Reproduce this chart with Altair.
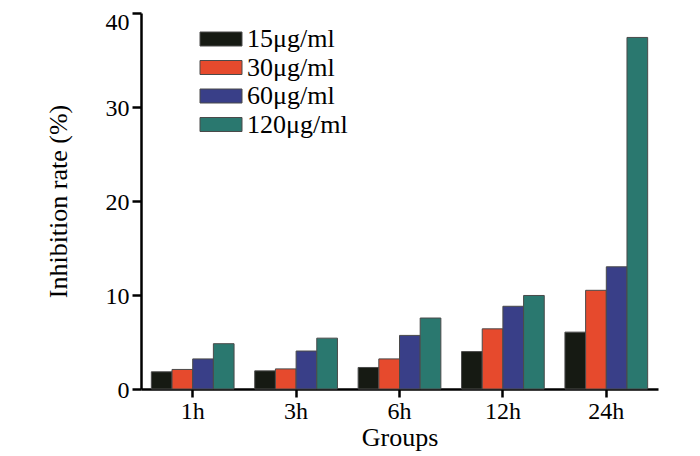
import altair as alt
import pandas as pd

groups = ["1h", "3h", "6h", "12h", "24h"]
doses = ["15μg/ml", "30μg/ml", "60μg/ml", "120μg/ml"]
vals_15 = [1.83, 1.93, 2.29, 3.98, 6.05]
vals_30 = [2.08, 2.14, 3.2, 6.4, 10.5]
vals_60 = [3.2, 4.04, 5.7, 8.8, 13.0]
vals_120 = [4.82, 5.41, 7.55, 9.95, 37.4]
colors = ["#161a13", "#e64a2d", "#393f88", "#2a786f"]
y_ticks = [0, 10, 20, 30, 40]

rows = []
for d, vs in zip(doses, [vals_15, vals_30, vals_60, vals_120]):
    for g, v in zip(groups, vs):
        rows.append({"Groups": g, "Dose": d, "Rate": v})
df = pd.DataFrame(rows)

font = "Liberation Serif"

chart = alt.Chart(df).mark_bar(stroke="#4a4a4a", strokeWidth=1).encode(
    x=alt.X("Groups:N", sort=groups,
            scale=alt.Scale(paddingInner=0.2, paddingOuter=0.1),
            axis=alt.Axis(title="Groups", labelAngle=0, labelFontSize=24,
                          titleFontSize=26, titleFontWeight="normal",
                          labelPadding=2, titlePadding=1, tickSize=8,
                          tickWidth=2.5, domainWidth=2.5)),
    xOffset=alt.XOffset("Dose:N", sort=doses),
    y=alt.Y("Rate:Q", scale=alt.Scale(domain=[0, 40], nice=False),
            axis=alt.Axis(title="Inhibition rate (%)", values=y_ticks,
                          labelFontSize=24, titleFontSize=26,
                          titleFontWeight="normal", labelPadding=3,
                          labelOffset=alt.condition("datum.value == 40", alt.value(9), alt.value(1)),
                          titlePadding=34, tickSize=9, tickWidth=2.5,
                          domainWidth=2.5, grid=False)),
    color=alt.Color("Dose:N", sort=doses,
                    scale=alt.Scale(domain=doses, range=colors),
                    legend=alt.Legend(title=None, orient="none", legendX=67,
                                      legendY=13,
                                      symbolType="M-3,-1L3,-1L3,1L-3,1Z",
                                      symbolSize=196, symbolStrokeColor="#4a4a4a",
                                      symbolStrokeWidth=1, symbolOpacity=1,
                                      labelFontSize=26, labelOffset=13,
                                      rowPadding=2.5, padding=0,
                                      labelColor="black")),
).properties(
    width=517, height=376,
    autosize=alt.AutoSizeParams(type="none"),
    padding={"left": 133, "top": 5, "right": 30, "bottom": 67},
).configure_axis(
    labelFont=font, titleFont=font, labelColor="black", titleColor="black",
    domainColor="black", tickColor="black",
).configure_legend(
    labelFont=font,
).configure_view(stroke=None)

chart.save("out.html", embed_options={"renderer": "svg", "actions": False})
